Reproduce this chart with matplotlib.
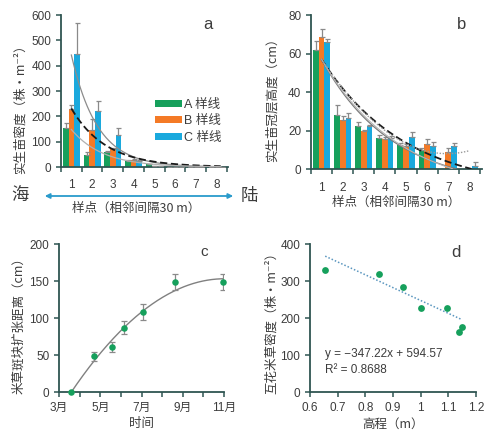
import numpy as np
import matplotlib
matplotlib.use("Agg")
import matplotlib.pyplot as plt
from matplotlib.patches import FancyArrowPatch

plt.rcParams['font.family'] = ['Liberation Sans', 'Noto Sans CJK SC', 'DejaVu Sans']

# ---------------- data ----------------
sites = [1, 2, 3, 4, 5, 6, 7, 8]
series_names = ['A 样线', 'B 样线', 'C 样线']

# panel a: seedling density
dens_A = [155, 48, 60, 25, 10, 0, 0, 0]
dens_B = [230, 145, 70, 28, 3, 0, 0, 0]
dens_C = [445, 220, 125, 22, 2, 0, 0, 0]
dens_A_err = [18, 12, 5, 4, 2, 0, 0, 0]
dens_B_err = [15, 45, 6, 4, 1, 0, 0, 0]
dens_C_err = [125, 40, 30, 5, 1, 0, 0, 0]
# exponential fits y = a*exp(-b*(x-1))
fit_a_C = (442, 0.80)
fit_a_B = (231, 0.60)
fit_a_A = (148, 0.66)

# panel b: seedling canopy height
hgt_A = [62, 28, 22.5, 16, 12.5, 10, 0, 0]
hgt_B = [68.5, 25.5, 19.5, 15.5, 12, 13, 9, 0]
hgt_C = [66, 26.5, 22.5, 16, 16.5, 12, 12, 1.5]
hgt_A_err = [4.5, 5, 2, 1.5, 1, 1, 0, 0]
hgt_B_err = [4, 2, 1, 1, 1, 2.5, 2, 0]
hgt_C_err = [1.5, 2.5, 0.5, 1, 2.5, 2, 1.5, 2]
# fits y = a*exp(-b*(x-1)) + c
fit_b_dash = (68.6, 0.25, -11.6)
fit_b_solid = (66.8, 0.30, -9.8)
fit_b_thin = (70.0, 0.27, -13.0)
# quadratic fit y = p0 + p1*x + p2*x^2
fit_b_quad = (74.9, -19.27, 1.387)

# panel c: patch expansion distance
months = [3.57, 4.71, 5.59, 6.16, 7.05, 8.64, 10.97]
expand = [0, 48, 61, 87, 108, 149, 149]
expand_err = [0, 6, 7, 9, 11, 11, 11]
fit_c_quad = (-184.2, 61.15, -2.772)
month_ticks = [3, 4, 5, 6, 7, 8, 9, 10, 11]
month_labels = ['3月', '', '5月', '', '7月', '', '9月', '', '11月']

# panel d: density vs elevation
elev = [0.655, 0.85, 0.935, 1.0, 1.095, 1.14, 1.148]
sdens = [330, 318, 283, 227, 227, 162, 175]
slope, intercept = -347.22, 594.57

# ---------------- style ----------------
GREEN = '#16a05c'
ORANGE = '#f47a26'
BLUE = '#1aa9dd'
SPINE = '#2f5552'
TXT = '#3c3c3c'
ERR = '#8a8a8a'
CJK = ['Noto Sans CJK SC', 'DejaVu Sans']

fig = plt.figure(figsize=(5.01, 4.36), dpi=100)

def style(ax):
    for s in ['top', 'right']:
        ax.spines[s].set_visible(False)
    for s in ['left', 'bottom']:
        ax.spines[s].set_color(SPINE)
        ax.spines[s].set_linewidth(1.3)
    ax.tick_params(which='both', colors=SPINE, labelcolor=TXT, labelsize=8.5,
                   length=3.5, width=1.1, direction='out')

W, H = 501, 436
def rect(x0, x1, ytop, ybot):
    return [x0 / W, 1 - ybot / H, (x1 - x0) / W, (ybot - ytop) / H]

x = np.arange(len(sites)) + 1.0
bw = 0.27
off = [-0.27, 0.0, 0.27]

# ---------------- panel a ----------------
axa = fig.add_axes(rect(61, 228, 15, 167))
style(axa)
for vals, errs, col, o, name in zip([dens_A, dens_B, dens_C],
                                     [dens_A_err, dens_B_err, dens_C_err],
                                     [GREEN, ORANGE, BLUE], off, series_names):
    axa.bar(x + o, vals, width=bw, color=col, label=name, zorder=2)
    e = np.array(errs)
    axa.errorbar(x + o, vals, yerr=[np.zeros_like(e), e], fmt='none',
                 ecolor=ERR, elinewidth=0.9, capsize=1.8, capthick=0.9, zorder=3)
xx = np.linspace(1, 8.2, 200)
axa.plot(xx, fit_a_C[0] * np.exp(-fit_a_C[1] * (xx - 1)), color='#8c8c8c', lw=0.9, zorder=4)
axa.plot(xx, fit_a_B[0] * np.exp(-fit_a_B[1] * (xx - 1)), color='#1a1a1a', lw=1.3,
         ls=(0, (4, 2)), zorder=4)
axa.plot(xx, fit_a_A[0] * np.exp(-fit_a_A[1] * (xx - 1)), color='#b0b0b0', lw=0.9, zorder=4)
axa.set_xlim(0.5, 8.55)
axa.set_ylim(0, 600)
axa.set_yticks([0, 100, 200, 300, 400, 500, 600])
axa.set_xticks(np.arange(0.5, 9, 1.0))
axa.set_xticklabels([])
axa.set_xticks(x, minor=True)
axa.set_xticklabels([str(s) for s in sites], minor=True)
axa.tick_params(axis='x', which='minor', length=0, pad=9)
axa.set_ylabel('实生苗密度（株·m⁻²）', fontsize=9, color=TXT, family=CJK)
axa.yaxis.set_label_coords(-0.205, 0.40)
axa.text(0.88, 0.99, 'a', transform=axa.transAxes, fontsize=12, color=TXT,
         ha='center', va='top')
leg = axa.legend(loc='upper left', bbox_to_anchor=(0.56, 0.45), frameon=False,
                 handlelength=2.2, handleheight=0.5, handletextpad=0.15,
                 labelspacing=0.37, borderpad=0, borderaxespad=0,
                 prop={'family': ['Liberation Sans', 'Noto Sans CJK SC'], 'size': 9})
for t in leg.get_texts():
    t.set_color(TXT)

# sea -> land arrow
arr = FancyArrowPatch((42 / W, 1 - 196 / H), (236 / W, 1 - 196 / H),
                      transform=fig.transFigure, arrowstyle='<|-|>',
                      mutation_scale=7, color='#2a9bcb', lw=1.3)
fig.patches.append(arr)
fig.text(20 / W, 1 - 196 / H, '海', fontsize=12.5, color=TXT, ha='center', va='center',
         family=['Noto Sans CJK SC'])
fig.text(249 / W, 1 - 196 / H, '陆', fontsize=12.5, color=TXT, ha='center', va='center',
         family=['Noto Sans CJK SC'])
fig.text(136 / W, 1 - 208 / H, '样点（相邻间隔30 m）', fontsize=9, color=TXT,
         ha='center', va='center', family=['Noto Sans CJK SC'])

# ---------------- panel b ----------------
axb = fig.add_axes(rect(311, 482, 15, 169))
style(axb)
for vals, errs, col, o in zip([hgt_A, hgt_B, hgt_C], [hgt_A_err, hgt_B_err, hgt_C_err],
                              [GREEN, ORANGE, BLUE], off):
    axb.bar(x + o, vals, width=bw, color=col, zorder=2)
    e = np.array(errs, dtype=float)
    v = np.array(vals, dtype=float)
    m = v > 0
    axb.errorbar((x + o)[m], v[m], yerr=[np.zeros(m.sum()), e[m]], fmt='none',
                 ecolor=ERR, elinewidth=0.9, capsize=1.8, capthick=0.9, zorder=3)
def expc(p, xs):
    return p[0] * np.exp(-p[1] * (xs - 1)) + p[2]
xb1 = np.linspace(1, 8.1, 200)
yb = expc(fit_b_dash, xb1)
axb.plot(xb1[yb >= 0], yb[yb >= 0], color='#1a1a1a', lw=1.3, ls=(0, (4, 2)), zorder=4)
yb = expc(fit_b_solid, xb1)
axb.plot(xb1[yb >= 0], yb[yb >= 0], color='#7a7a7a', lw=0.9, zorder=4)
yb = expc(fit_b_thin, xb1)
axb.plot(xb1[yb >= 0], yb[yb >= 0], color='#b5b5b5', lw=0.8, zorder=4)
xq = np.linspace(1, 8, 200)
axb.plot(xq, fit_b_quad[0] + fit_b_quad[1] * xq + fit_b_quad[2] * xq ** 2,
         color='#9a9a9a', lw=1.0, ls=(0, (1, 1.2)), zorder=4)
axb.set_xlim(0.5, 8.6)
axb.set_ylim(0, 80)
axb.set_yticks([0, 20, 40, 60, 80])
axb.set_xticks(np.arange(0.5, 9, 1.0))
axb.set_xticklabels([])
axb.set_xticks(x, minor=True)
axb.set_xticklabels([str(s) for s in sites], minor=True)
axb.tick_params(axis='x', which='minor', length=0, pad=9)
axb.set_ylabel('实生苗冠层高度（cm）', fontsize=9, color=TXT, family=CJK)
axb.yaxis.set_label_coords(-0.19, 0.47)
axb.set_xlabel('样点（相邻间隔30 m）', fontsize=9, color=TXT, labelpad=2,
               family=['Noto Sans CJK SC'])
axb.text(0.88, 0.99, 'b', transform=axb.transAxes, fontsize=12, color=TXT,
         ha='center', va='top')

# ---------------- panel c ----------------
axc = fig.add_axes(rect(59, 224, 244, 392))
style(axc)
xc = np.linspace(months[0], months[-1], 200)
axc.plot(xc, fit_c_quad[0] + fit_c_quad[1] * xc + fit_c_quad[2] * xc ** 2,
         color='#808080', lw=1.0, zorder=2)
axc.errorbar(months, expand, yerr=expand_err, fmt='none', ecolor=ERR,
             elinewidth=0.9, capsize=2.2, capthick=0.9, zorder=3)
axc.scatter(months, expand, s=22, color=GREEN, zorder=4, linewidths=0, clip_on=False)
axc.set_xlim(3, 11)
axc.set_ylim(0, 200)
axc.set_yticks([0, 50, 100, 150, 200])
axc.set_xticks(month_ticks)
axc.set_xticklabels(month_labels, family=['Liberation Sans', 'Noto Sans CJK SC'])
axc.set_ylabel('米草斑块扩张距离（cm）', fontsize=9, color=TXT, family=CJK)
axc.yaxis.set_label_coords(-0.205, 0.47)
axc.set_xlabel('时间', fontsize=9, color=TXT, labelpad=2, family=['Noto Sans CJK SC'])
axc.text(0.88, 0.99, 'c', transform=axc.transAxes, fontsize=11, color=TXT,
         ha='center', va='top')

# ---------------- panel d ----------------
axd = fig.add_axes(rect(310, 476, 244, 392))
style(axd)
xl = np.array([min(elev), max(elev)])
axd.plot(xl, slope * xl + intercept, color='#5a96bf', lw=1.1, ls=(0, (1, 1.3)), zorder=2)
axd.scatter(elev, sdens, s=24, color=GREEN, zorder=3, linewidths=0)
axd.set_xlim(0.6, 1.2)
axd.set_ylim(0, 400)
axd.set_yticks([0, 100, 200, 300, 400])
axd.set_xticks([0.6, 0.7, 0.8, 0.9, 1.0, 1.1, 1.2])
axd.set_xticklabels(['0.6', '0.7', '0.8', '0.9', '1', '1.1', '1.2'])
axd.set_ylabel('互花米草密度（株·m⁻²）', fontsize=9, color=TXT, family=CJK)
axd.yaxis.set_label_coords(-0.19, 0.49)
axd.set_xlabel('高程（m）', fontsize=9, color=TXT, labelpad=3, family=['Noto Sans CJK SC'])
axd.text(0.88, 0.99, 'd', transform=axd.transAxes, fontsize=12, color=TXT,
         ha='center', va='top')
axd.text(0.09, 0.26, 'y = −347.22x + 594.57', transform=axd.transAxes, fontsize=8.5,
         color=TXT, ha='left', va='center')
axd.text(0.09, 0.15, 'R² = 0.8688', transform=axd.transAxes, fontsize=8.5,
         color=TXT, ha='left', va='center')

fig.savefig('out.png', dpi=100)
